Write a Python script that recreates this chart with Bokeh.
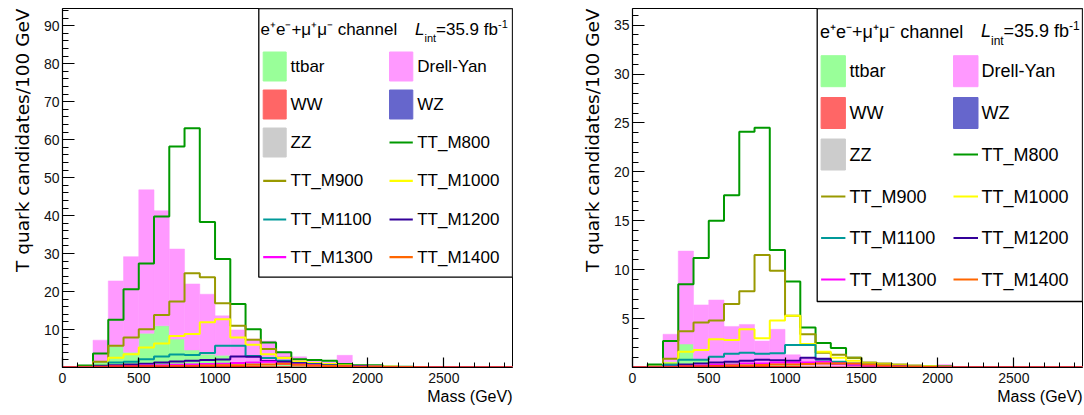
import math
from bokeh.plotting import figure
from bokeh.layouts import row
from bokeh.models import FixedTicker, Title, Range1d
from bokeh.core.properties import value
from bokeh.embed import file_html
from bokeh.resources import INLINE

FONT = "Liberation Sans"
YFONT = "DejaVu Sans"

# ---------------- data ----------------
bin_edges = list(range(0, 3100, 100))          # 30 bins of 100 GeV
x_tick_values = [0, 500, 1000, 1500, 2000, 2500]
x_minor_ticks = list(range(0, 3000, 100))

def pad(lst):
    return lst + [0.0] * (30 - len(lst))

# left panel (A)
WW_A    = pad([0, 0, 0.2, 0.3, 0.3, 0.3, 0.2, 0.2, 0.2, 0.1, 0.1, 0.1, 0.1, 0.05, 0.05])
WZ_A    = pad([0, 0, 0.2, 0.4, 0.4, 0.5, 0.5, 0.4, 0.4, 0.3, 0.3, 0.2, 0.2, 0.1, 0.1, 0.1])
ZZ_A    = pad([0, 0, 0.1, 0.2, 0.2, 0.2, 0.2, 0.2, 0.1, 0.1, 0.1, 0.1, 0.1, 0.05, 0.05])
ttbar_A = pad([0, 0, 1.0, 4.6, 3.1, 8.0, 10.1, 6.7, 3.9, 3.0, 2.7, 1.1, 1.1, 0.8, 0.6, 0.5, 0.4, 0.2, 0.2, 0.1])
DY_A    = pad([0, 0, 5.7, 17.3, 25.2, 37.8, 30.3, 23.7, 17.4, 15.8, 10.4, 8.4, 6.0, 6.0, 3.0, 2.2, 1.4, 1.3, 3.0, 0.4, 0.2])
M800_A  = pad([0, 0.5, 3.7, 12.6, 20.6, 27.4, 39.8, 58.2, 63.0, 38.3, 28.6, 16.7, 10.1, 6.6, 4.0, 2.2, 2.0, 1.8, 0.9, 0.6, 0.6, 0.2, 0.2, 0.1, 0.1])
M900_A  = pad([0, 0.2, 1.5, 5.7, 7.9, 10.1, 13.8, 17.4, 24.8, 23.8, 16.9, 11.0, 7.3, 4.9, 2.6, 1.4, 1.1, 0.8, 0.5, 0.3, 0.2, 0.2, 0.1, 0.1])
M1000_A = pad([0, 0.1, 0.5, 2.6, 3.5, 5.3, 6.3, 8.3, 8.8, 11.9, 12.7, 7.9, 6.0, 3.5, 2.5, 1.6, 1.2, 0.9, 0.5, 0.4, 0.3, 0.2, 0.1, 0.1])
M1100_A = pad([0, 0, 0.5, 1.3, 1.5, 2.2, 2.9, 3.4, 3.3, 3.8, 5.7, 5.7, 3.0, 2.5, 1.8, 1.2, 0.9, 0.6, 0.4, 0.3, 0.2, 0.1, 0.1])
M1200_A = pad([0, 0, 0.3, 0.6, 0.8, 1.0, 1.3, 1.6, 1.8, 2.0, 2.1, 2.9, 2.8, 1.7, 1.5, 1.1, 0.8, 0.5, 0.4, 0.3, 0.2, 0.1, 0.1])
M1300_A = pad([0, 0, 0.1, 0.3, 0.4, 0.5, 0.6, 0.7, 0.8, 0.9, 1.0, 1.2, 1.3, 1.5, 1.0, 0.8, 0.6, 0.4, 0.3, 0.2, 0.2, 0.1, 0.1])
M1400_A = pad([0, 0, 0.1, 0.2, 0.2, 0.3, 0.3, 0.4, 0.4, 0.5, 0.6, 0.6, 0.7, 0.8, 1.0, 0.7, 0.5, 0.4, 0.3, 0.2, 0.2, 0.1, 0.1, 0.05])

# right panel (B)
WW_B    = pad([0, 0, 0.05, 0.1, 0.1, 0.1, 0.05, 0.05, 0.05, 0.05, 0.05])
WZ_B    = pad([0, 0, 0.1, 0.15, 0.15, 0.15, 0.15, 0.15, 0.15, 0.1, 0.1, 0.1, 0.1, 0.05, 0.05])
ZZ_B    = pad([0, 0, 0.05, 0.1, 0.1, 0.1, 0.1, 0.1, 0.1, 0.05, 0.05, 0.05, 0.05])
ttbar_B = pad([0, 0, 0.4, 2.05, 0.45, 0.25, 0.2, 0.2, 0.1, 0.1, 0.1, 0.05, 0.05])
DY_B    = pad([0, 0, 2.8, 9.5, 5.6, 6.3, 3.7, 3.9, 2.3, 3.6, 1.0, 0.7, 0.5, 0.4, 0.25, 0.2, 0.1, 0.1, 0.1, 0.1, 0.3])
M800_B  = pad([0, 0.3, 2.7, 8.5, 11.2, 15.0, 17.6, 24.1, 24.5, 12.0, 8.8, 4.1, 2.5, 2.0, 1.0, 0.45, 0.35, 0.2, 0.15, 0.1, 0.1])
M900_B  = pad([0, 0.1, 0.9, 3.7, 4.6, 4.8, 6.5, 7.8, 11.5, 9.9, 5.3, 3.4, 1.5, 1.3, 1.0, 0.5, 0.4, 0.3, 0.2, 0.1, 0.1])
M1000_B = pad([0, 0, 0.4, 1.6, 1.8, 2.9, 2.8, 3.9, 3.0, 4.8, 5.3, 2.4, 1.6, 1.0, 0.7, 0.4, 0.3, 0.2, 0.15, 0.1, 0.05])
M1100_B = pad([0, 0, 0.3, 0.8, 0.8, 1.1, 1.4, 1.5, 1.4, 1.45, 2.3, 2.3, 0.8, 0.6, 0.4, 0.3, 0.2, 0.15, 0.1, 0.05])
M1200_B = pad([0, 0, 0.1, 0.3, 0.4, 0.5, 0.6, 0.7, 0.8, 0.75, 0.7, 1.0, 0.9, 0.4, 0.3, 0.2, 0.15, 0.1, 0.05])
M1300_B = pad([0, 0, 0.05, 0.1, 0.2, 0.3, 0.3, 0.4, 0.4, 0.5, 0.5, 0.5, 0.6, 0.4, 0.3, 0.2, 0.1, 0.1, 0.05])
M1400_B = pad([0, 0, 0.05, 0.1, 0.1, 0.15, 0.2, 0.2, 0.25, 0.3, 0.3, 0.35, 0.4, 0.4, 0.4, 0.3, 0.2, 0.1, 0.1, 0.05])

stack_names = ["WW", "WZ", "ZZ", "ttbar", "Drell-Yan"]
signal_names = ["TT_M800", "TT_M900", "TT_M1000", "TT_M1100", "TT_M1200", "TT_M1300", "TT_M1400"]
colors = {
    "ttbar": "#99ff99", "Drell-Yan": "#ff99ff", "WW": "#ff6666", "WZ": "#6666cc", "ZZ": "#cccccc",
    "TT_M800": "#009900", "TT_M900": "#999900", "TT_M1000": "#ffff00", "TT_M1100": "#009999",
    "TT_M1200": "#330099", "TT_M1300": "#ff00ff", "TT_M1400": "#ff6600",
}
legend_rows = [("ttbar", "Drell-Yan"), ("WW", "WZ"), ("ZZ", "TT_M800"),
               ("TT_M900", "TT_M1000"), ("TT_M1100", "TT_M1200"), ("TT_M1300", "TT_M1400")]
fill_entries = {"ttbar", "Drell-Yan", "WW", "WZ", "ZZ"}

panel_A = dict(stack=[WW_A, WZ_A, ZZ_A, ttbar_A, DY_A],
               signals=[M800_A, M900_A, M1000_A, M1100_A, M1200_A, M1300_A, M1400_A],
               ymax=94.55, y_ticks=list(range(10, 100, 10)), y_minor=[v * 2 for v in range(0, 48)])
panel_B = dict(stack=[WW_B, WZ_B, ZZ_B, ttbar_B, DY_B],
               signals=[M800_B, M900_B, M1000_B, M1100_B, M1200_B, M1300_B, M1400_B],
               ymax=36.7, y_ticks=list(range(5, 40, 5)), y_minor=list(range(0, 37)))

XMAX = 2950
FRAME_W, FRAME_H, TOP, BOTTOM = 450, 359, 8, 48


def build(panel, width, bl, br, origin, leg):
    ymax = panel["ymax"]
    fl = origin + bl                 # absolute frame left
    fb = TOP + FRAME_H               # absolute frame bottom
    fx = lambda px: (px - fl) / FRAME_W * XMAX
    fy = lambda py: (fb - py) / FRAME_H * ymax

    p = figure(width=width, height=TOP + FRAME_H + BOTTOM, output_backend="svg", toolbar_location=None,
               x_range=Range1d(0, XMAX), y_range=Range1d(0, ymax),
               min_border_left=bl, min_border_right=br, min_border_top=TOP, min_border_bottom=BOTTOM)
    p.grid.visible = False
    p.outline_line_color = "black"
    p.outline_line_width = 1
    p.background_fill_color = "white"
    p.border_fill_color = "white"

    for ax in (p.xaxis[0], p.yaxis[0]):
        ax.major_tick_out = 0
        ax.minor_tick_out = 0
        ax.axis_line_width = 1.2
        ax.major_tick_line_width = 1.2
        ax.minor_tick_line_width = 1
        ax.major_label_text_font = FONT
        ax.major_label_text_font_size = "14px"
        ax.major_label_text_color = "#111111"
    p.xaxis.ticker = FixedTicker(ticks=x_tick_values, minor_ticks=x_minor_ticks)
    p.xaxis.major_tick_in = 10
    p.xaxis.minor_tick_in = 5
    p.xaxis.major_label_standoff = 5
    p.yaxis.ticker = FixedTicker(ticks=panel["y_ticks"], minor_ticks=panel["y_minor"])
    p.yaxis.major_tick_in = 12
    p.yaxis.minor_tick_in = 6
    p.yaxis.major_label_standoff = 3

    lefts, rights = bin_edges[:-1], bin_edges[1:]
    cum = [0.0] * 30
    for name, vals in zip(stack_names, panel["stack"]):
        idx = [i for i in range(30) if vals[i] > 0]
        p.quad(left=[lefts[i] for i in idx], right=[rights[i] for i in idx],
               bottom=[cum[i] for i in idx], top=[cum[i] + vals[i] for i in idx],
               fill_color=colors[name], line_color=colors[name], line_width=0.5)
        if name == "WW":
            ww_top = [cum[i] + vals[i] for i in range(30)]
        cum = [cum[i] + vals[i] for i in range(30)]
    for name, vals in zip(signal_names, panel["signals"]):
        p.step(x=bin_edges, y=vals + [vals[-1]], mode="after", line_color=colors[name], line_width=2)
    p.step(x=bin_edges, y=ww_top + [ww_top[-1]], mode="after", line_color="#ee2222", line_width=2.2)

    # legend
    p.quad(left=[fx(leg["left"])], right=[XMAX], bottom=[fy(leg["bottom"])], top=[ymax],
           fill_color="white", line_color="black", line_width=1.3)
    fs = leg["fs"]
    sw_h = leg["sw_h"]
    for r, pair in enumerate(legend_rows):
        yc = leg["rows"][r]
        for c, name in enumerate(pair):
            x0, x1 = leg["sw"][c]
            if name in fill_entries:
                p.quad(left=[fx(x0)], right=[fx(x1)], bottom=[fy(yc + sw_h / 2)], top=[fy(yc - sw_h / 2)],
                       fill_color=colors[name], line_color=colors[name], line_width=1)
            else:
                p.segment(x0=[fx(x0)], x1=[fx(x1)], y0=[fy(yc)], y1=[fy(yc)],
                          line_color=colors[name], line_width=2.2)
            p.text(x=[fx(leg["tx"][c])], y=[fy(yc)], text=[name], text_font=value(FONT),
                   text_font_size=value(f"{fs}px"), text_baseline="middle", text_align="left",
                   text_color="black")
    hx, hy = leg["header"]
    p.text(x=[fx(hx)], y=[fy(hy)], text=["e\u207ae\u207b+\u03bc\u207a\u03bc\u207b channel"],
           text_font=value(FONT), text_font_size=value(f"{fs}px"), text_baseline="middle",
           text_align="left", text_color="black")
    for txt, px, py, size, style in leg["lint"]:
        p.text(x=[fx(px)], y=[fy(py)], text=[txt], text_font=value(FONT),
               text_font_size=value(f"{size}px"), text_font_style=style, text_baseline="middle",
               text_align="left", text_color="black")

    # axis titles
    p.add_layout(Title(text="Mass (GeV)", align="right", text_font=FONT, text_font_size="16px",
                       text_font_style="normal", text_color="black", standoff=0), "below")
    p.add_layout(Title(text="T quark candidates/100 GeV", align="right", text_font=YFONT,
                       text_font_size="18.5px", text_font_style="normal", text_color="black",
                       standoff=15), "left")
    return p


leg_A = dict(left=258.3, bottom=276.7, fs=17, sw_h=29,
             rows=[66, 104, 142, 180.3, 219, 256.7],
             sw=[(262.7, 285.7), (389, 412.3)], tx=[290, 416.7], header=(260, 29.3),
             lint=[("L", 414.5, 28.5, 17, "italic"), ("int", 424, 37.5, 11, "normal"),
                   ("=35.9 fb", 435.5, 28.5, 17, "normal"), ("-1", 497.5, 23, 11, "normal")])
leg_B = dict(left=816.7, bottom=301, fs=18, sw_h=31,
             rows=[70.7, 112.5, 154, 196, 237.5, 279],
             sw=[(820.6, 844.9), (953, 977.5)], tx=[849, 981], header=(819.5, 31),
             lint=[("L", 980.5, 30.5, 18, "italic"), ("int", 990.5, 40, 12, "normal"),
                   ("=35.9 fb", 1003, 30.5, 18, "normal"), ("-1", 1068.5, 25, 12, "normal")])

pA = build(panel_A, 540, 62, 28, 0, leg_A)
pB = build(panel_B, 544, 92, 2, 540, leg_B)

layout = row(pA, pB, spacing=0)
open("out.html", "w").write(file_html(layout, INLINE))
